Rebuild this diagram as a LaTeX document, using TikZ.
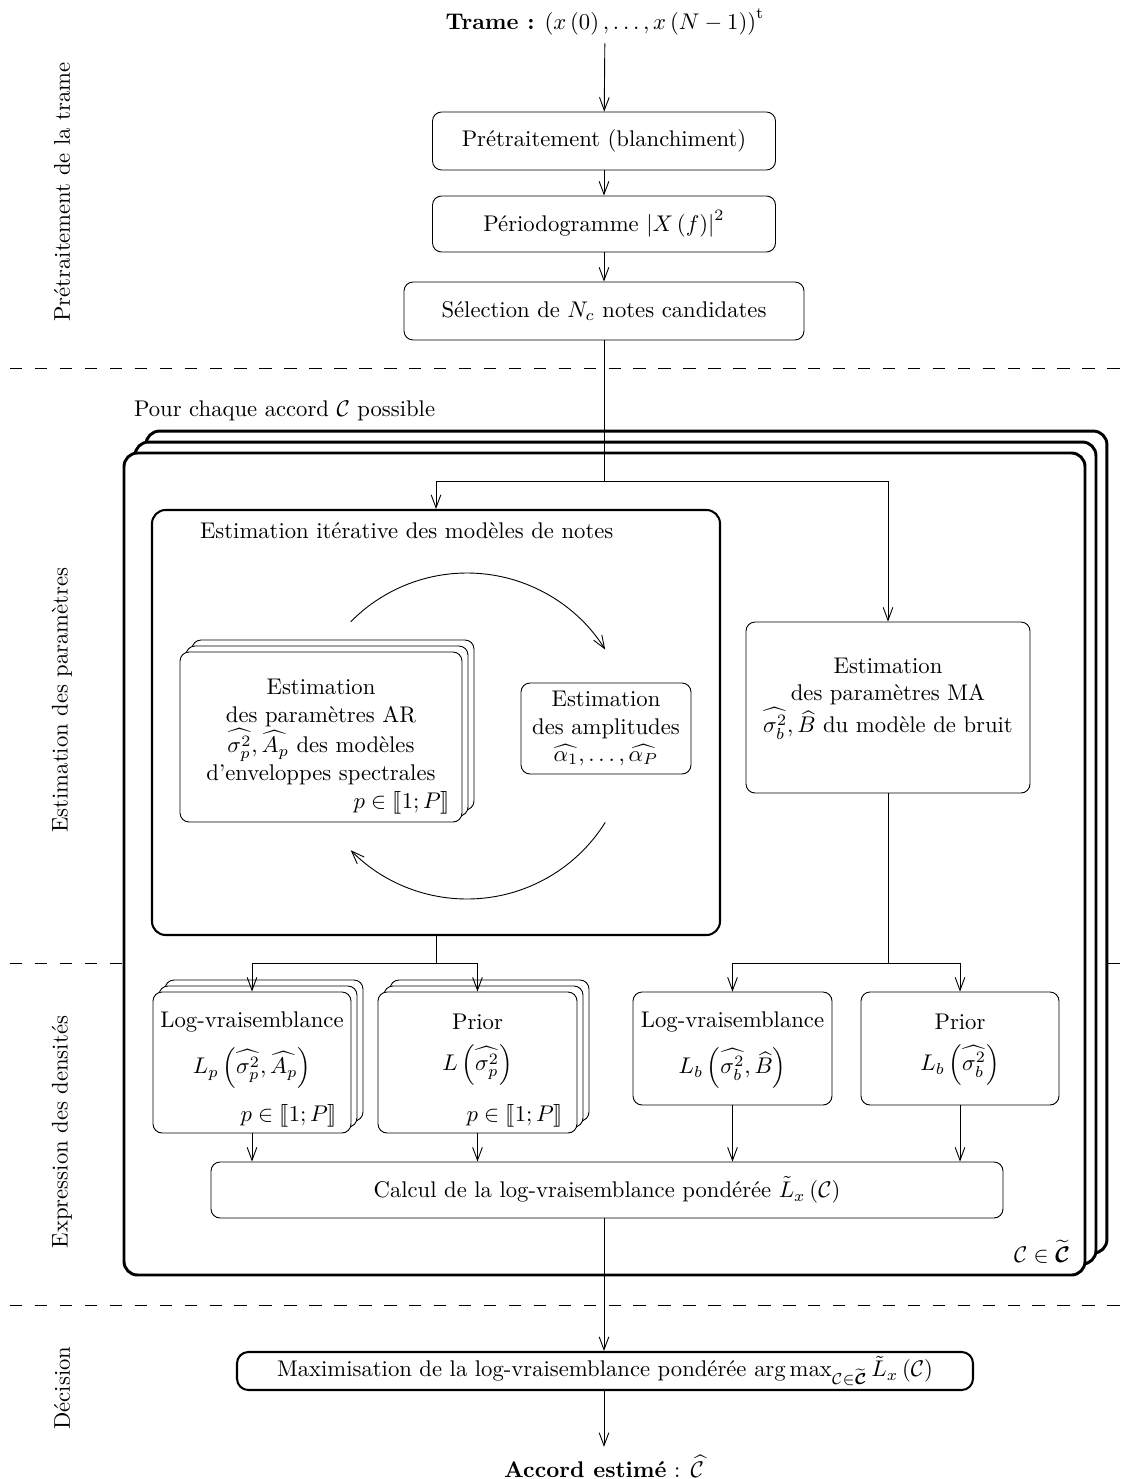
\documentclass[tikz,border=0pt]{standalone}
\usepackage{amsmath,amssymb}
\usepackage{stmaryrd}
\usepackage{tikz}
\usetikzlibrary{shadows,arrows.meta}
\newlength\pxu
\setlength\pxu{0.0155cm}
\tikzset{
  etape/.style={draw, rounded corners=4pt, fill=white, align=center, inner sep=0pt},
  pile/.style={etape,
    copy shadow={shadow xshift=0.186cm, shadow yshift=0.186cm, draw, fill=white},
    copy shadow={shadow xshift=0.093cm, shadow yshift=0.093cm, draw, fill=white}},
  grande/.style={etape, line width=1.3pt, rounded corners=6pt,
    copy shadow={shadow xshift=0.34cm, shadow yshift=0.34cm, draw, fill=white, line width=1.3pt},
    copy shadow={shadow xshift=0.17cm, shadow yshift=0.17cm, draw, fill=white, line width=1.3pt}},
  lien/.style={-{Straight Barb[length=2mm,width=1.5mm]}},
  phase/.style={rotate=90},
  separ/.style={dashed, dash pattern=on 5.5pt off 5.5pt},
}
\begin{document}
\begin{tikzpicture}[x=\pxu, y=-\pxu]
\useasboundingbox (0,0) rectangle (1125,1479);
\draw[separ] (10,368) -- (1125,368);
\draw[separ] (10,963) -- (1125,963);
\draw[separ] (10,1305) -- (1125,1305);
\node[phase] (ph1) at (62,192) {Prétraitement de la trame};
\node[phase] (ph2) at (62,700) {Estimation des paramètres};
\node[phase] (ph3) at (62,1132) {Expression des densités};
\node[phase] (ph4) at (62,1388) {Décision};

\node (trame) at (605,22) {\textbf{Trame :} $\left(x\left(0\right),\ldots,x\left(N-1\right)\right)^{\mathrm{t}}$};
\node[etape, minimum width=343*\pxu, minimum height=58*\pxu] (pretr) at (604,141) {Prétraitement (blanchiment)};
\node[etape, minimum width=343*\pxu, minimum height=56*\pxu] (perio) at (604,224) {Périodogramme $\left|X\left(f\right)\right|^2$};
\node[etape, minimum width=400*\pxu, minimum height=58*\pxu] (select) at (604,311) {Sélection de $N_c$ notes candidates};

\node[anchor=west] (pour) at (126,411) {Pour chaque accord $\mathcal{C}$ possible};
\node[grande, minimum width=961*\pxu, minimum height=822*\pxu] (accord) at (604.5,864) {};
\node[anchor=east] (cset) at (1078,1252) {$\mathcal{C}\in\widetilde{\boldsymbol{\mathcal{C}}}$};

\node[etape, line width=0.9pt, rounded corners=6pt, minimum width=568*\pxu, minimum height=425*\pxu] (iter) at (436,722.5) {};
\node[anchor=west] (itertxt) at (192,531) {Estimation itérative des modèles de notes};
\node[pile, minimum width=282*\pxu, minimum height=170*\pxu] (ar) at (321,737) {};
\node[align=center] (artxt) at (321,732) {Estimation\\des paramètres AR\\$\widehat{\sigma_p^2},\widehat{A_p}$ des modèles\\d'enveloppes spectrales};
\node[anchor=east] (arp) at (458,803) {$p\in\llbracket 1;P\rrbracket$};
\node[etape, minimum width=170*\pxu, minimum height=91*\pxu] (ampl) at (606,728.5) {Estimation\\des amplitudes\\$\widehat{\alpha_1},\ldots,\widehat{\alpha_P}$};
\coordinate (cyc) at (467,736);
\draw[lien] ([shift={(-135.5:163)}]cyc) arc[start angle=-135.5, end angle=-32, radius=163];
\draw[lien] ([shift={(32:163)}]cyc) arc[start angle=32, end angle=135.5, radius=163];

\node[etape, minimum width=284*\pxu, minimum height=171*\pxu] (ma) at (888,707.5) {};
\node[align=center] (matxt) at (888,699) {Estimation\\des paramètres MA\\$\widehat{\sigma_b^2},\widehat{B}$ du modèle de bruit};

\node[pile, minimum width=198*\pxu, minimum height=141*\pxu] (logl1) at (252,1062.5) {};
\node[align=center] (logl1txt) at (252,1050) {Log-vraisemblance\\[6pt]$L_p\left(\widehat{\sigma_p^2},\widehat{A_p}\right)$};
\node[anchor=east] (logl1p) at (345,1116) {$p\in\llbracket 1;P\rrbracket$};
\node[pile, minimum width=199*\pxu, minimum height=141*\pxu] (prior1) at (477.5,1062.5) {};
\node[align=center] (prior1txt) at (477.5,1050) {Prior\\[6pt]$L\left(\widehat{\sigma_p^2}\right)$};
\node[anchor=east] (prior1p) at (571,1116) {$p\in\llbracket 1;P\rrbracket$};
\node[etape, minimum width=199*\pxu, minimum height=113*\pxu] (logl2) at (732.5,1048.5) {};
\node[align=center] (logl2txt) at (732.5,1050) {Log-vraisemblance\\[6pt]$L_b\left(\widehat{\sigma_b^2},\widehat{B}\right)$};
\node[etape, minimum width=198*\pxu, minimum height=113*\pxu] (prior2) at (960,1048.5) {};
\node[align=center] (prior2txt) at (960,1050) {Prior\\[6pt]$L_b\left(\widehat{\sigma_b^2}\right)$};
\node[etape, minimum width=792*\pxu, minimum height=56*\pxu] (calcul) at (607,1190) {Calcul de la log-vraisemblance pondérée $\tilde{L}_x\left(\mathcal{C}\right)$};

\node[etape, line width=0.9pt, rounded corners=5pt, minimum width=736*\pxu, minimum height=38*\pxu] (maxi) at (605,1371) {Maximisation de la log-vraisemblance pondérée $\arg\max_{\mathcal{C}\in\widetilde{\boldsymbol{\mathcal{C}}}}\tilde{L}_x\left(\mathcal{C}\right)$};
\node (estime) at (604,1466) {\textbf{Accord estimé} : $\widehat{\mathcal{C}}$};

\coordinate (div1) at (604,481);
\coordinate (div2) at (436,963);
\coordinate (div3) at (888,963);
\draw[lien] (trame) -- (pretr);
\draw[lien] (pretr) -- (perio);
\draw[lien] (perio) -- (select);
\draw (select) -- (div1);
\draw[lien] (div1) -| (iter.north);
\draw[lien] (div1) -| (ma.north);
\draw (iter) -- (div2);
\draw[lien] (div2) -| (logl1.north);
\draw[lien] (div2) -| (prior1.north);
\draw (ma) -- (div3);
\draw[lien] (div3) -| (logl2.north);
\draw[lien] (div3) -| (prior2.north);
\draw[lien] (logl1) -- (logl1 |- calcul.north);
\draw[lien] (prior1) -- (prior1 |- calcul.north);
\draw[lien] (logl2) -- (logl2 |- calcul.north);
\draw[lien] (prior2) -- (prior2 |- calcul.north);
\draw[lien] (calcul.south -| select) -- (maxi.north -| select);
\draw[lien] (maxi.south -| estime) -- (estime);
\end{tikzpicture}
\end{document}
